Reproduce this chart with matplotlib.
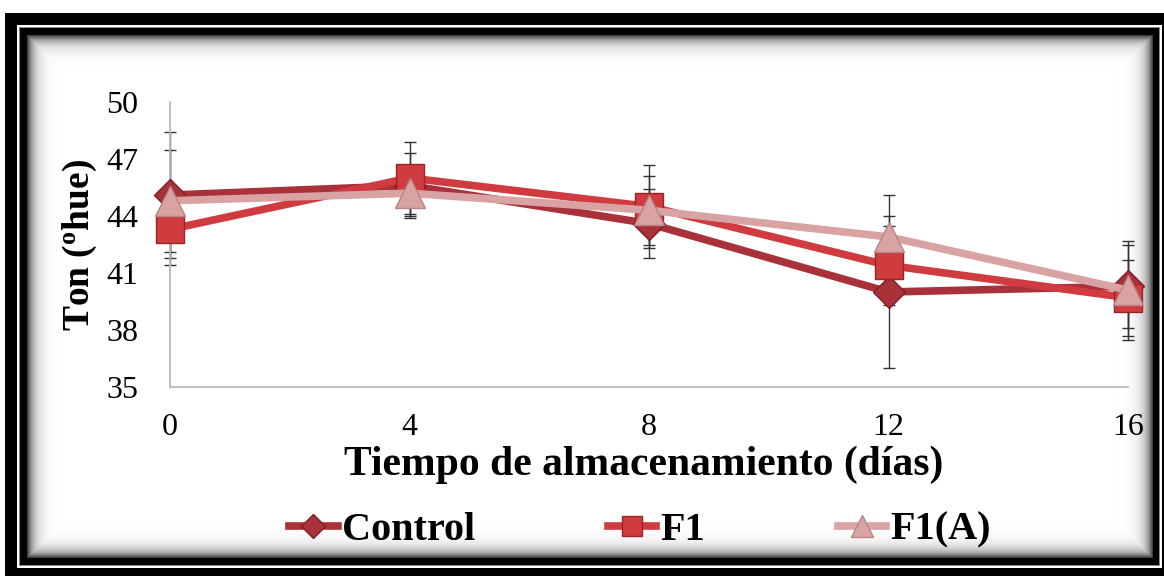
import numpy as np
import matplotlib
matplotlib.use("Agg")
import matplotlib.pyplot as plt
from matplotlib.lines import Line2D

plt.rcParams["font.family"] = ["Liberation Serif", "DejaVu Serif"]
plt.rcParams["mathtext.fontset"] = "custom"
plt.rcParams["mathtext.rm"] = "Liberation Serif:bold"
plt.rcParams["mathtext.it"] = "Liberation Serif:bold"

# Storage time (days)
days = [0, 4, 8, 12, 16]

# Hue angle (°hue) per treatment
control = [45.1, 45.6, 43.6, 40.0, 40.3]
f1 = [43.3, 46.0, 44.5, 41.4, 39.7]
f1a = [44.8, 45.2, 44.3, 42.9, 40.1]

# Standard deviations
control_err = [3.3, 1.7, 1.8, 4.0, 2.2]
f1_err = [1.9, 1.9, 2.2, 2.1, 2.0]
f1a_err = [2.7, 1.2, 1.8, 2.2, 2.6]

series_names = ["Control", "F1", "F1(A)"]
y_ticks = [35, 38, 41, 44, 47, 50]
x_ticks = [0, 4, 8, 12, 16]

W, H = 1164, 576
fig = plt.figure(figsize=(W / 100, H / 100), dpi=100)

# ---- decorative double frame with inner shadow, drawn as a background image ----
img = np.ones((H, W))
yy, xx = np.mgrid[0:H, 0:W]
img[13:, 5:] = 0.0                      # outer black band
img[25:568, 17:1162] = 1.0              # white gap
img[27:566, 19:1160] = 0.55             # thin gray line
img[28:565, 20:1159] = 0.0              # inner black band
x0, x1, y0, y1 = 27, 1152, 35, 557
inner = (xx >= x0) & (xx <= x1) & (yy >= y0) & (yy <= y1)
d = np.minimum.reduce([xx - x0, x1 - xx, yy - y0, y1 - yy]).astype(float)
shade = 1 - 0.75 * np.exp(-d / 6.5)
img[inner] = shade[inner]
bg = fig.add_axes([0, 0, 1, 1], zorder=-10)
bg.imshow(img, cmap="gray", vmin=0, vmax=1, aspect="auto", interpolation="bilinear")
bg.axis("off")

# ---- main plot ----
L, R, T, B = 170, 1128, 102, 387
ax = fig.add_axes([L / W, 1 - B / H, (R - L) / W, (B - T) / H])
ax.set_facecolor("none")

colors = ["#A9323A", "#CF3B3E", "#D9A3A3"]
edges = ["#7E1E24", "#9E2326", "#B88486"]
markers = ["D", "s", "^"]
msizes = [16, 20, 22]
values = [control, f1, f1a]
errors = [control_err, f1_err, f1a_err]

for vals, errs in zip(values, errors):
    ax.errorbar(days, vals, yerr=errs, fmt="none", ecolor="#333333",
                elinewidth=1.0, capsize=4, capthick=1.0, zorder=2)

for i, (vals, name) in enumerate(zip(values, series_names)):
    ax.plot(days, vals, color=colors[i], lw=5.5, marker=markers[i],
            markersize=msizes[i], markerfacecolor=colors[i],
            markeredgecolor=edges[i], markeredgewidth=1.0,
            solid_joinstyle="round", zorder=3 + i, label=name)

ax.set_xlim(0, 16)
ax.set_ylim(35, 50)
ax.set_xticks(x_ticks)
ax.set_yticks(y_ticks)
ax.set_xticklabels([str(v) for v in x_ticks], fontsize=23)
ax.set_yticklabels([str(v) for v in y_ticks], fontsize=23)
ax.tick_params(axis="both", length=0)
ax.tick_params(axis="y", pad=23)
ax.tick_params(axis="x", pad=19)
for s in ["top", "right"]:
    ax.spines[s].set_visible(False)
for s in ["left", "bottom"]:
    ax.spines[s].set_color("#BBBBBB")
    ax.spines[s].set_linewidth(1.3)
for art in ax.lines + ax.collections:
    art.set_clip_on(False)

fig.text(644 / W, 1 - 465 / H, "Tiempo de almacenamiento (días)",
         ha="center", va="center", fontsize=30, fontweight="bold")
fig.text(80 / W, 1 - 245 / H, r"Ton ($^{\mathrm{o}}$hue)", rotation=90,
         ha="center", va="center", fontsize=27, fontweight="bold")

handles = [Line2D([], [], color=colors[i], lw=5.5, marker=markers[i],
                  markersize=msizes[i] * 0.75, markerfacecolor=colors[i],
                  markeredgecolor=edges[i]) for i in range(3)]
fig.legend(handles, series_names, loc="center", bbox_to_anchor=(640 / W, 1 - 530 / H),
           ncol=3, frameon=False, handlelength=1.2, handletextpad=0.1,
           columnspacing=3.3, prop={"size": 29, "weight": "bold"})

fig.savefig("out.png", dpi=100)
